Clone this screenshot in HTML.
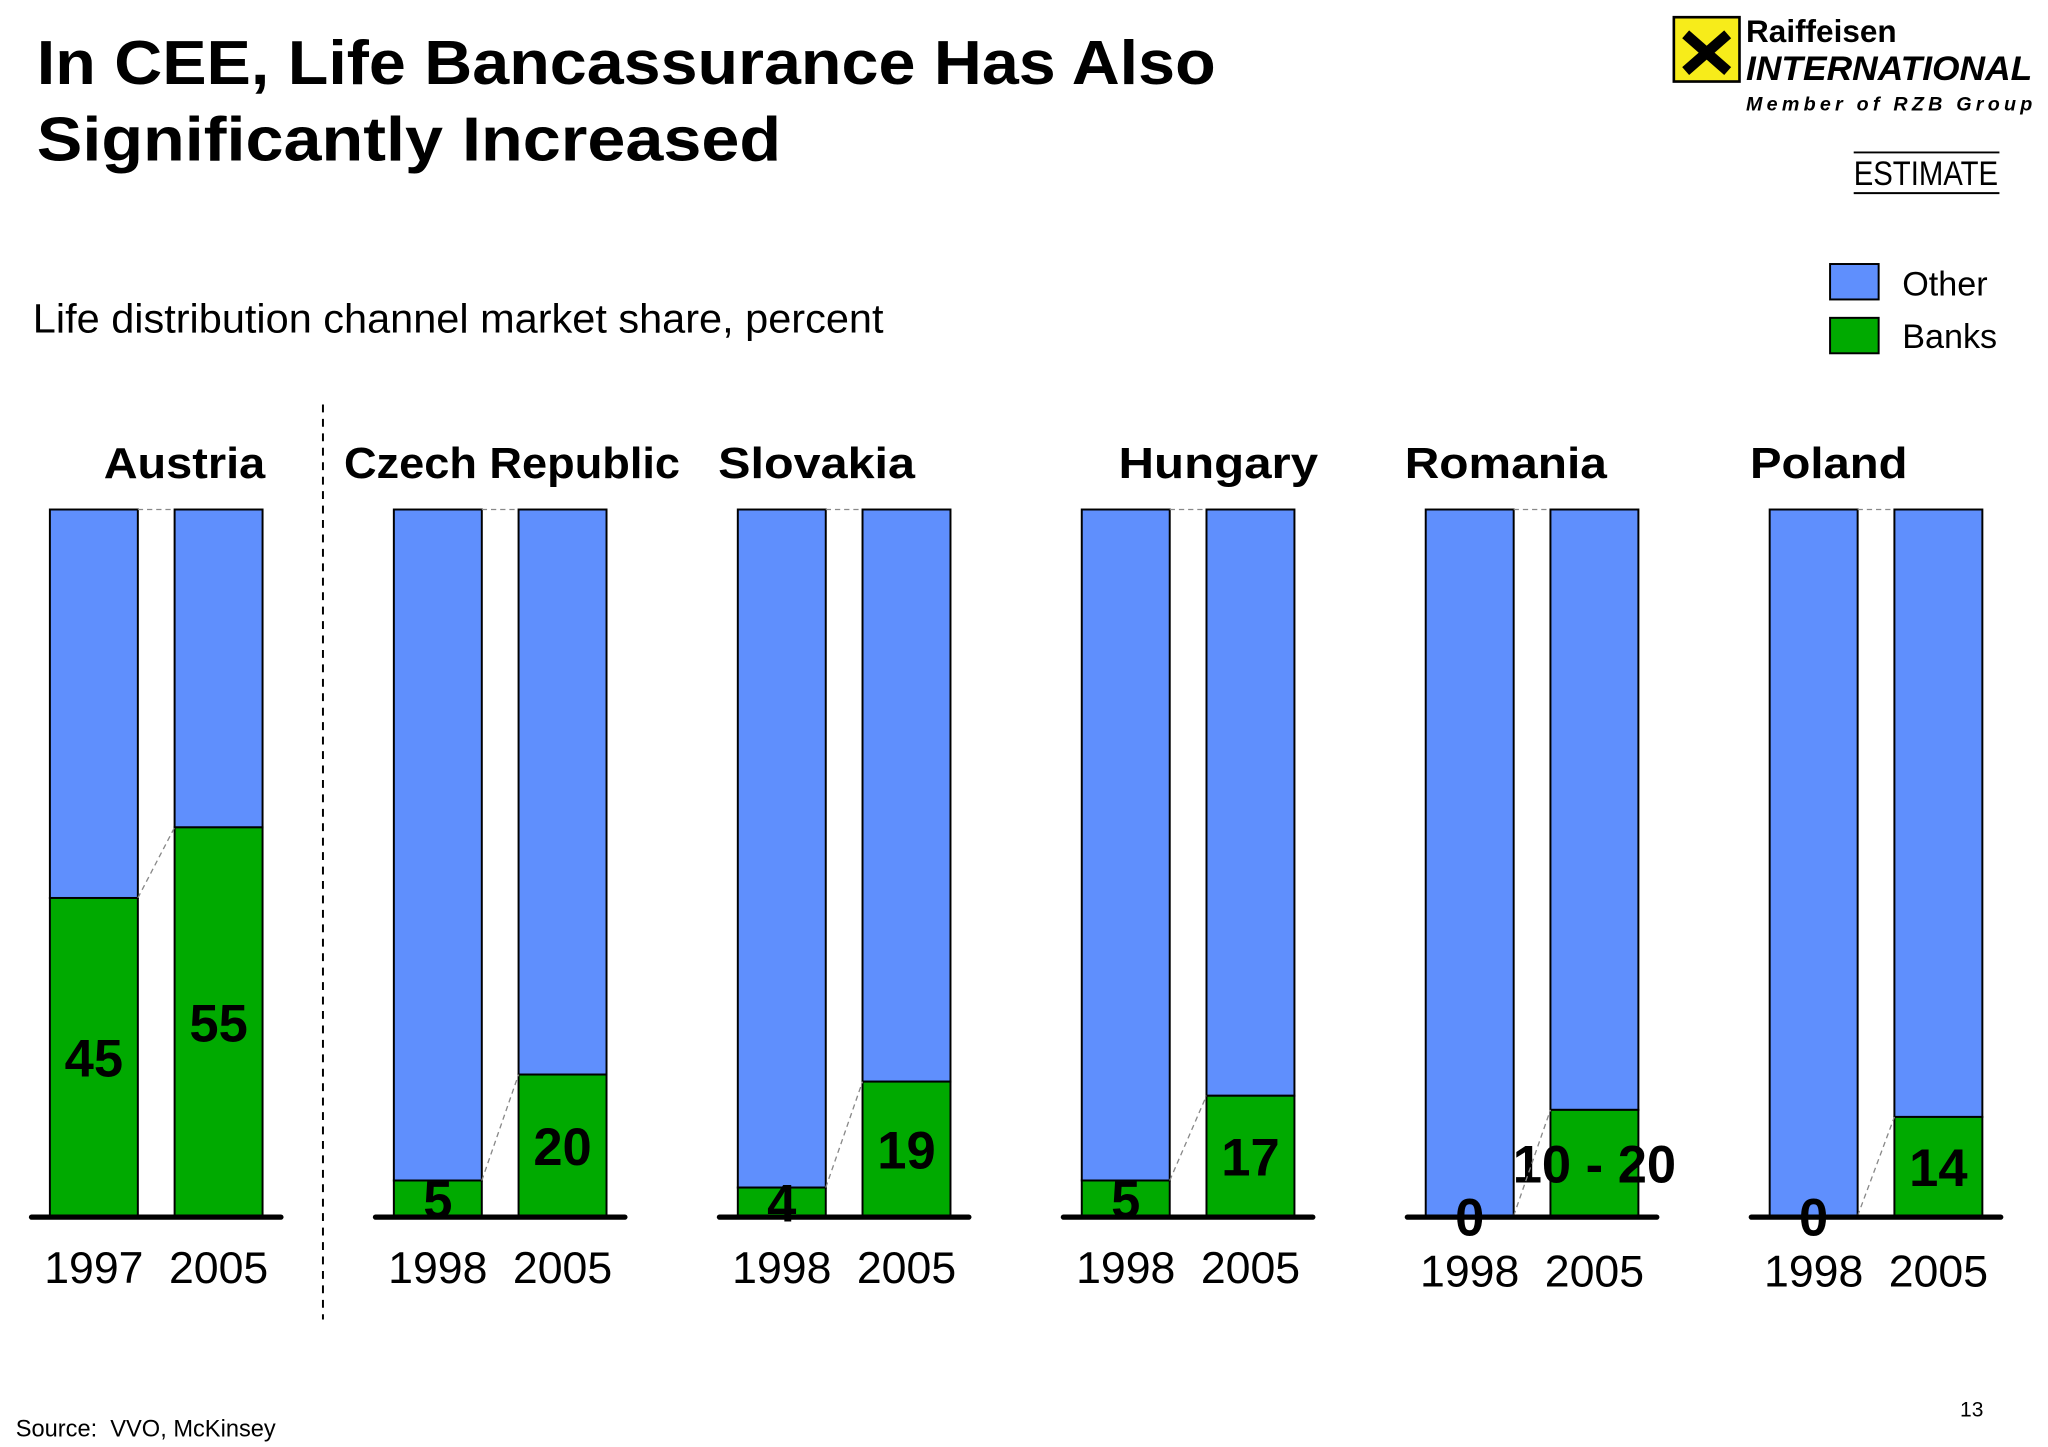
<!DOCTYPE html>
<html><head><meta charset="utf-8"><style>
html,body{margin:0;padding:0;background:#fff;}
svg{display:block;font-family:"Liberation Sans",sans-serif;}
</style></head><body>
<svg id="chart" width="2048" height="1447" viewBox="0 0 1560 1102" xmlns="http://www.w3.org/2000/svg">
<rect width="1560" height="1102" fill="#fff"/>
<g font-weight="bold" font-size="47" fill="#000">
<text x="28" y="64" textLength="898" lengthAdjust="spacingAndGlyphs">In CEE, Life Bancassurance Has Also</text>
<text x="28" y="122" textLength="567" lengthAdjust="spacingAndGlyphs">Significantly Increased</text>
</g>
<text x="25" y="253" font-size="31" textLength="648" lengthAdjust="spacingAndGlyphs">Life distribution channel market share, percent</text>
<g>
<rect x="1275" y="13" width="50" height="49" fill="#f7ec1a" stroke="#000" stroke-width="2"/>
<path d="M1284 26 L1316 54 M1316 26 L1284 54" stroke="#000" stroke-width="8"/>
<text x="1330" y="32" font-weight="bold" font-size="24">Raiffeisen</text>
<text x="1330" y="61" font-weight="bold" font-style="italic" font-size="26" textLength="218" lengthAdjust="spacingAndGlyphs">INTERNATIONAL</text>
<text x="1330" y="84" font-weight="bold" font-style="italic" font-size="15" textLength="218" lengthAdjust="spacing">Member of RZB Group</text>
</g>
<g>
<line x1="1412" y1="116" x2="1523" y2="116" stroke="#000" stroke-width="1.5"/>
<line x1="1412" y1="147" x2="1523" y2="147" stroke="#000" stroke-width="1.5"/>
<text x="1467" y="141" text-anchor="middle" font-size="26" textLength="110" lengthAdjust="spacingAndGlyphs">ESTIMATE</text>
</g>
<g font-size="26">
<g><rect x="1394" y="201" width="37" height="27" fill="#5f8ffd" stroke="#000" stroke-width="1.5"/><text x="1449" y="225">Other</text></g>
<g><rect x="1394" y="242" width="37" height="27" fill="#00aa00" stroke="#000" stroke-width="1.5"/><text x="1449" y="265">Banks</text></g>
</g>
<line x1="246" y1="308" x2="246" y2="1005" stroke="#000" stroke-width="1.5" stroke-dasharray="6,5"/>
<g id="groups"></g>
<text x="1493" y="1079" font-size="16">13</text>
<text x="12" y="1094" font-size="18" xml:space="preserve">Source:  VVO, McKinsey</text>
</svg>
<script>
const countries = ["Austria","Czech Republic","Slovakia","Hungary","Romania","Poland"];
const startYears = ["1997","1998","1998","1998","1998","1998"];
const endYears = ["2005","2005","2005","2005","2005","2005"];
const banksStart = [45,5,4,5,0,0];
const banksEnd = [55,20,19,17,15,14];
const labelsStart = ["45","5","4","5","0","0"];
const labelsEnd = ["55","20","19","17","10 - 20","14"];

const NS="http://www.w3.org/2000/svg";
const top0=388, base=926;
const nameX=[202,262,547,852,1070,1333];
const nameW=[123,256,150,152,154,120];
function y(v){return base-(v/100)*(base-top0);}
function gx(i){return 38+i*262;}
function mk(tag,attrs,parent){const e=document.createElementNS(NS,tag);for(const k in attrs)e.setAttribute(k,attrs[k]);parent.appendChild(e);return e;}
const root=document.getElementById('groups');
countries.forEach((c,i)=>{
  const g=mk('g',{},root);
  
  
  const x1=gx(i), x2=gx(i)+95, w=67;
  const name=mk('text',{x:nameX[i],y:364,'font-weight':'bold','font-size':33,textLength:nameW[i],lengthAdjust:'spacingAndGlyphs'},g);
  if(i===0)name.setAttribute('text-anchor','end');
  name.textContent=c;
  
  
  [[x1,banksStart[i],labelsStart[i],startYears[i],'start'],[x2,banksEnd[i],labelsEnd[i],endYears[i],'end']].forEach(([bx,v,lab,yr,k])=>{
    const o=mk('rect',{x:bx,y:top0,width:w,height:y(v)-top0,fill:'#5f8ffd',stroke:'#000','stroke-width':1.5},g);
    
    
    const b=mk('rect',{x:bx,y:y(v),width:w,height:base-y(v),fill:'#00aa00',stroke:'#000','stroke-width':1.5},g);
    
    
    const t=mk('text',{x:bx+w/2,y:y(v/2)+15,'text-anchor':'middle','font-weight':'bold','font-size':40},g);
    t.textContent=lab;
    
    
    const yl=mk('text',{x:bx+w/2,y:i>=4?980:977,'text-anchor':'middle','font-size':34},g);
    yl.textContent=yr;
    
    
  });
  const l1=mk('line',{x1:x1+w,y1:top0,x2:x2,y2:top0,stroke:'#888','stroke-width':1,'stroke-dasharray':'4,3'},g);
  
  
  const l2=mk('line',{x1:x1+w,y1:y(banksStart[i]),x2:x2,y2:y(banksEnd[i]),stroke:'#888','stroke-width':1,'stroke-dasharray':'4,3'},g);
  
  
  const ax=mk('line',{x1:x1-14,y1:base+1,x2:x2+w+14,y2:base+1,stroke:'#000','stroke-width':4,'stroke-linecap':'round'},g);
  
  
});
</script>
</body></html>
